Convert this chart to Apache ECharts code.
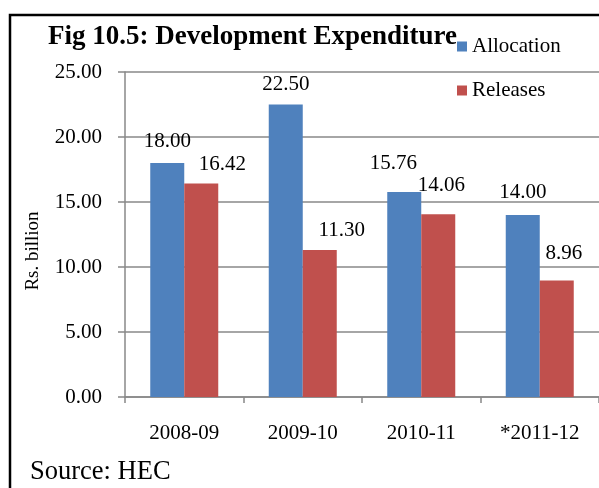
<!DOCTYPE html>
<html>
<head>
<meta charset="utf-8">
<script src="https://cdn.jsdelivr.net/npm/echarts@6/dist/echarts.min.js"></script>
<style>html,body{margin:0;padding:0;background:#fff;}#c{width:599px;height:488px;}</style>
</head>
<body>
<div id="c"></div>
<script>
var categories = ['2008-09', '2009-10', '2010-11', '*2011-12'];
var allocation = [18.00, 22.50, 15.76, 14.00];
var releases = [16.42, 11.30, 14.06, 8.96];
var yTicks = [0, 5, 10, 15, 20, 25];

// label nudges (style only)
var allocOffsets = [[0, -6], [0, -5], [-11, -13], [0, -7]];
var relOffsets = [[21, -4], [22, -4], [3, -13], [7, -12]];

var FONT = 'Liberation Serif';
function mk(vals, offs) {
  return vals.map(function (v, i) {
    return { value: v, label: { offset: offs[i] } };
  });
}
var chart = echarts.init(document.getElementById('c'), null, { renderer: 'canvas' });
chart.setOption({
  animation: false,
  backgroundColor: '#fff',
  textStyle: { fontFamily: FONT },
  title: {
    text: 'Fig 10.5: Development Expenditure',
    left: 48, top: 23.5, padding: 0,
    textStyle: { fontFamily: FONT, fontSize: 27, fontWeight: 'bold', color: '#000' }
  },
  legend: {
    orient: 'vertical', left: 457, top: 36, padding: 0,
    icon: 'rect', itemWidth: 10, itemHeight: 10, itemGap: 23,
    textStyle: { fontFamily: FONT, fontSize: 21, color: '#000' },
    data: ['Allocation', 'Releases']
  },
  grid: { left: 125, top: 72, width: 480, height: 325 },
  xAxis: {
    type: 'category', data: categories,
    axisLine: { lineStyle: { color: '#888', width: 1.5 } },
    axisTick: { show: true, length: 6, lineStyle: { color: '#888', width: 1.5 } },
    axisLabel: { margin: 26, fontFamily: FONT, fontSize: 21, color: '#000' }
  },
  yAxis: {
    type: 'value', min: yTicks[0], max: yTicks[yTicks.length - 1], interval: 5,
    axisLine: { show: true, lineStyle: { color: '#888', width: 1.5 } },
    axisTick: { show: true, length: 7, lineStyle: { color: '#888', width: 1.5 } },
    splitLine: { show: true, lineStyle: { color: '#888', width: 1.5 } },
    axisLabel: {
      margin: 23, fontFamily: FONT, fontSize: 21, color: '#000',
      formatter: function (v) { return v.toFixed(2); }
    }
  },
  series: [
    {
      name: 'Allocation', type: 'bar', barWidth: 34, barGap: '0%',
      itemStyle: { color: '#4F81BD' },
      label: { show: true, position: 'top', fontFamily: FONT, fontSize: 21, color: '#000',
        formatter: function (p) { return p.value.toFixed(2); } },
      data: mk(allocation, allocOffsets)
    },
    {
      name: 'Releases', type: 'bar', barWidth: 34, barGap: '0%',
      itemStyle: { color: '#C0504D' },
      label: { show: true, position: 'top', fontFamily: FONT, fontSize: 21, color: '#000',
        formatter: function (p) { return p.value.toFixed(2); } },
      data: mk(releases, relOffsets)
    }
  ],
  graphic: [
    { type: 'rect', shape: { x: 10, y: 15, width: 700, height: 600 }, silent: true,
      style: { fill: 'none', stroke: '#000', lineWidth: 2.5 }, z: 100 },
    { type: 'text', x: 33, y: 251, rotation: Math.PI / 2,
      style: { text: 'Rs. billion', fontFamily: FONT, fontSize: 19, fill: '#000', align: 'center', verticalAlign: 'middle' } },
    { type: 'text', x: 30, y: 472,
      style: { text: 'Source: HEC', fontFamily: FONT, fontSize: 26.5, fill: '#000', align: 'left', verticalAlign: 'middle' } }
  ]
});
</script>
</body>
</html>
